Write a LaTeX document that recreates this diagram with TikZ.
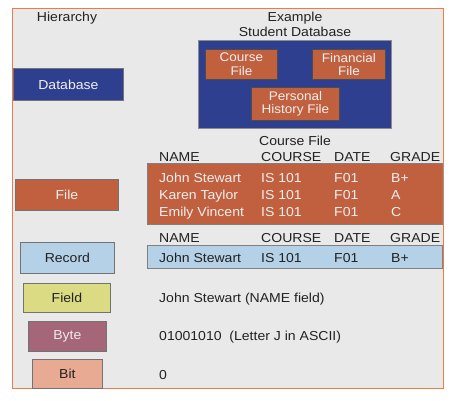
\documentclass[tikz,border=0pt]{standalone}
\usepackage{fontspec}
\setmainfont[FakeStretch=1.08]{Liberation Sans}
\usepackage{xcolor}
\usepackage{tikz}
\usetikzlibrary{positioning}

\definecolor{panelgray}{HTML}{E9E9E9}
\definecolor{frameorange}{HTML}{EE7B45}
\definecolor{dbblue}{HTML}{2F3F8F}
\definecolor{filebrown}{HTML}{C0603F}
\definecolor{recblue}{HTML}{B5D1E8}
\definecolor{fieldyellow}{HTML}{DADB82}
\definecolor{bytemauve}{HTML}{A6667A}
\definecolor{bitsalmon}{HTML}{E8AA92}
\definecolor{inktext}{HTML}{222222}

\begin{document}
\begin{tikzpicture}[x=1pt, y=-1pt,
    % basic styles
    every node/.style={font=\fontsize{13}{15}\selectfont, inner sep=0pt, text=inktext},
    % boxes of the hierarchy column
    levelbox/.style={draw=black!55, line width=0.8pt, anchor=north west, align=center},
    % small file boxes inside the database
    filebox/.style={levelbox, fill=filebrown, draw=black!70, text=white!94!black,
        font=\fontsize{12.5}{13.5}\selectfont},
    % table texts
    cell/.style={anchor=base west},
    lightcell/.style={cell, text=white!94!black}
]

\useasboundingbox (0,0) rectangle (462,400);

% panel
\draw[fill=panelgray, draw=frameorange, line width=1pt] (12.5,8) rectangle (443,388);

% headings
\node[anchor=base] (hier) at (67,21) {Hierarchy};
\node[anchor=base, align=center] (example) at (295,21) {Example};
\node[anchor=base] (studentdb) at (295,36) {Student Database};

% database level
\node[levelbox, fill=dbblue, text=white!94!black, minimum width=110pt, minimum height=32pt]
    (database) at (13,68) {Database};
\node[levelbox, fill=dbblue, draw=black!45, minimum width=193pt, minimum height=88pt]
    (dbbox) at (198,40) {};
\node[filebox, minimum width=72pt, minimum height=30pt] (coursefile) at (205,49) {Course\\File};
\node[filebox, minimum width=73pt, minimum height=30pt] (finfile) at (312,49) {Financial\\File};
\node[filebox, minimum width=88pt, minimum height=33pt] (histfile) at (251,87) {Personal\\History File};

% file level
\node[levelbox, fill=filebrown, text=white!94!black, minimum width=103pt, minimum height=31pt]
    (file) at (15,179) {File};
\node[anchor=base] (cftitle) at (295,145.5) {Course File};
\node[cell] (hname) at (159,161) {NAME};
\node[cell] (hcourse) at (261,161) {COURSE};
\node[cell] (hdate) at (334,161) {DATE};
\node[cell] (hgrade) at (390,161) {GRADE};
\node[levelbox, fill=filebrown, draw=black!50, minimum width=295pt, minimum height=61pt]
    (filetable) at (147,163) {};
\node[lightcell] (rowa) at (159,182) {John Stewart};
\node[lightcell] (rowacourse) at (261,182) {IS 101};
\node[lightcell] (rowadate) at (334,182) {F01};
\node[lightcell] (rowagrade) at (391,182) {B+};
\node[lightcell] (rowb) at (159,199) {Karen Taylor};
\node[lightcell] (rowbcourse) at (261,199) {IS 101};
\node[lightcell] (rowbdate) at (334,199) {F01};
\node[lightcell] (rowbgrade) at (391,199) {A};
\node[lightcell] (rowc) at (159,216) {Emily Vincent};
\node[lightcell] (rowccourse) at (261,216) {IS 101};
\node[lightcell] (rowcdate) at (334,216) {F01};
\node[lightcell] (rowcgrade) at (391,216) {C};

% record level
\node[levelbox, fill=recblue, minimum width=94pt, minimum height=31pt] (record) at (20,242) {Record};
\node[cell] (rname) at (159,242.5) {NAME};
\node[cell] (rcourse) at (261,242.5) {COURSE};
\node[cell] (rdate) at (334,242.5) {DATE};
\node[cell] (rgrade) at (390,242.5) {GRADE};
\node[levelbox, fill=recblue, draw=black!50, minimum width=295pt, minimum height=23pt]
    (rectable) at (147,245) {};
\node[cell] (reca) at (159,262) {John Stewart};
\node[cell] (recacourse) at (261,262) {IS 101};
\node[cell] (recadate) at (334,262) {F01};
\node[cell] (recagrade) at (391,262) {B+};

% field, byte, bit
\node[levelbox, fill=fieldyellow, minimum width=87pt, minimum height=29pt] (field) at (23,283) {Field};
\node[cell] (fieldex) at (159,302.5) {John Stewart (NAME field)};
\node[levelbox, fill=bytemauve, text=white!92!black, minimum width=78pt, minimum height=30pt]
    (byte) at (28,321) {Byte};
\node[cell] (byteex) at (159,340) {01001010\ \ (Letter J in ASCII)};
\node[levelbox, fill=bitsalmon, minimum width=70pt, minimum height=29pt] (bit) at (32,359) {Bit};
\node[cell] (bitex) at (159,379) {0};

\end{tikzpicture}
\end{document}
